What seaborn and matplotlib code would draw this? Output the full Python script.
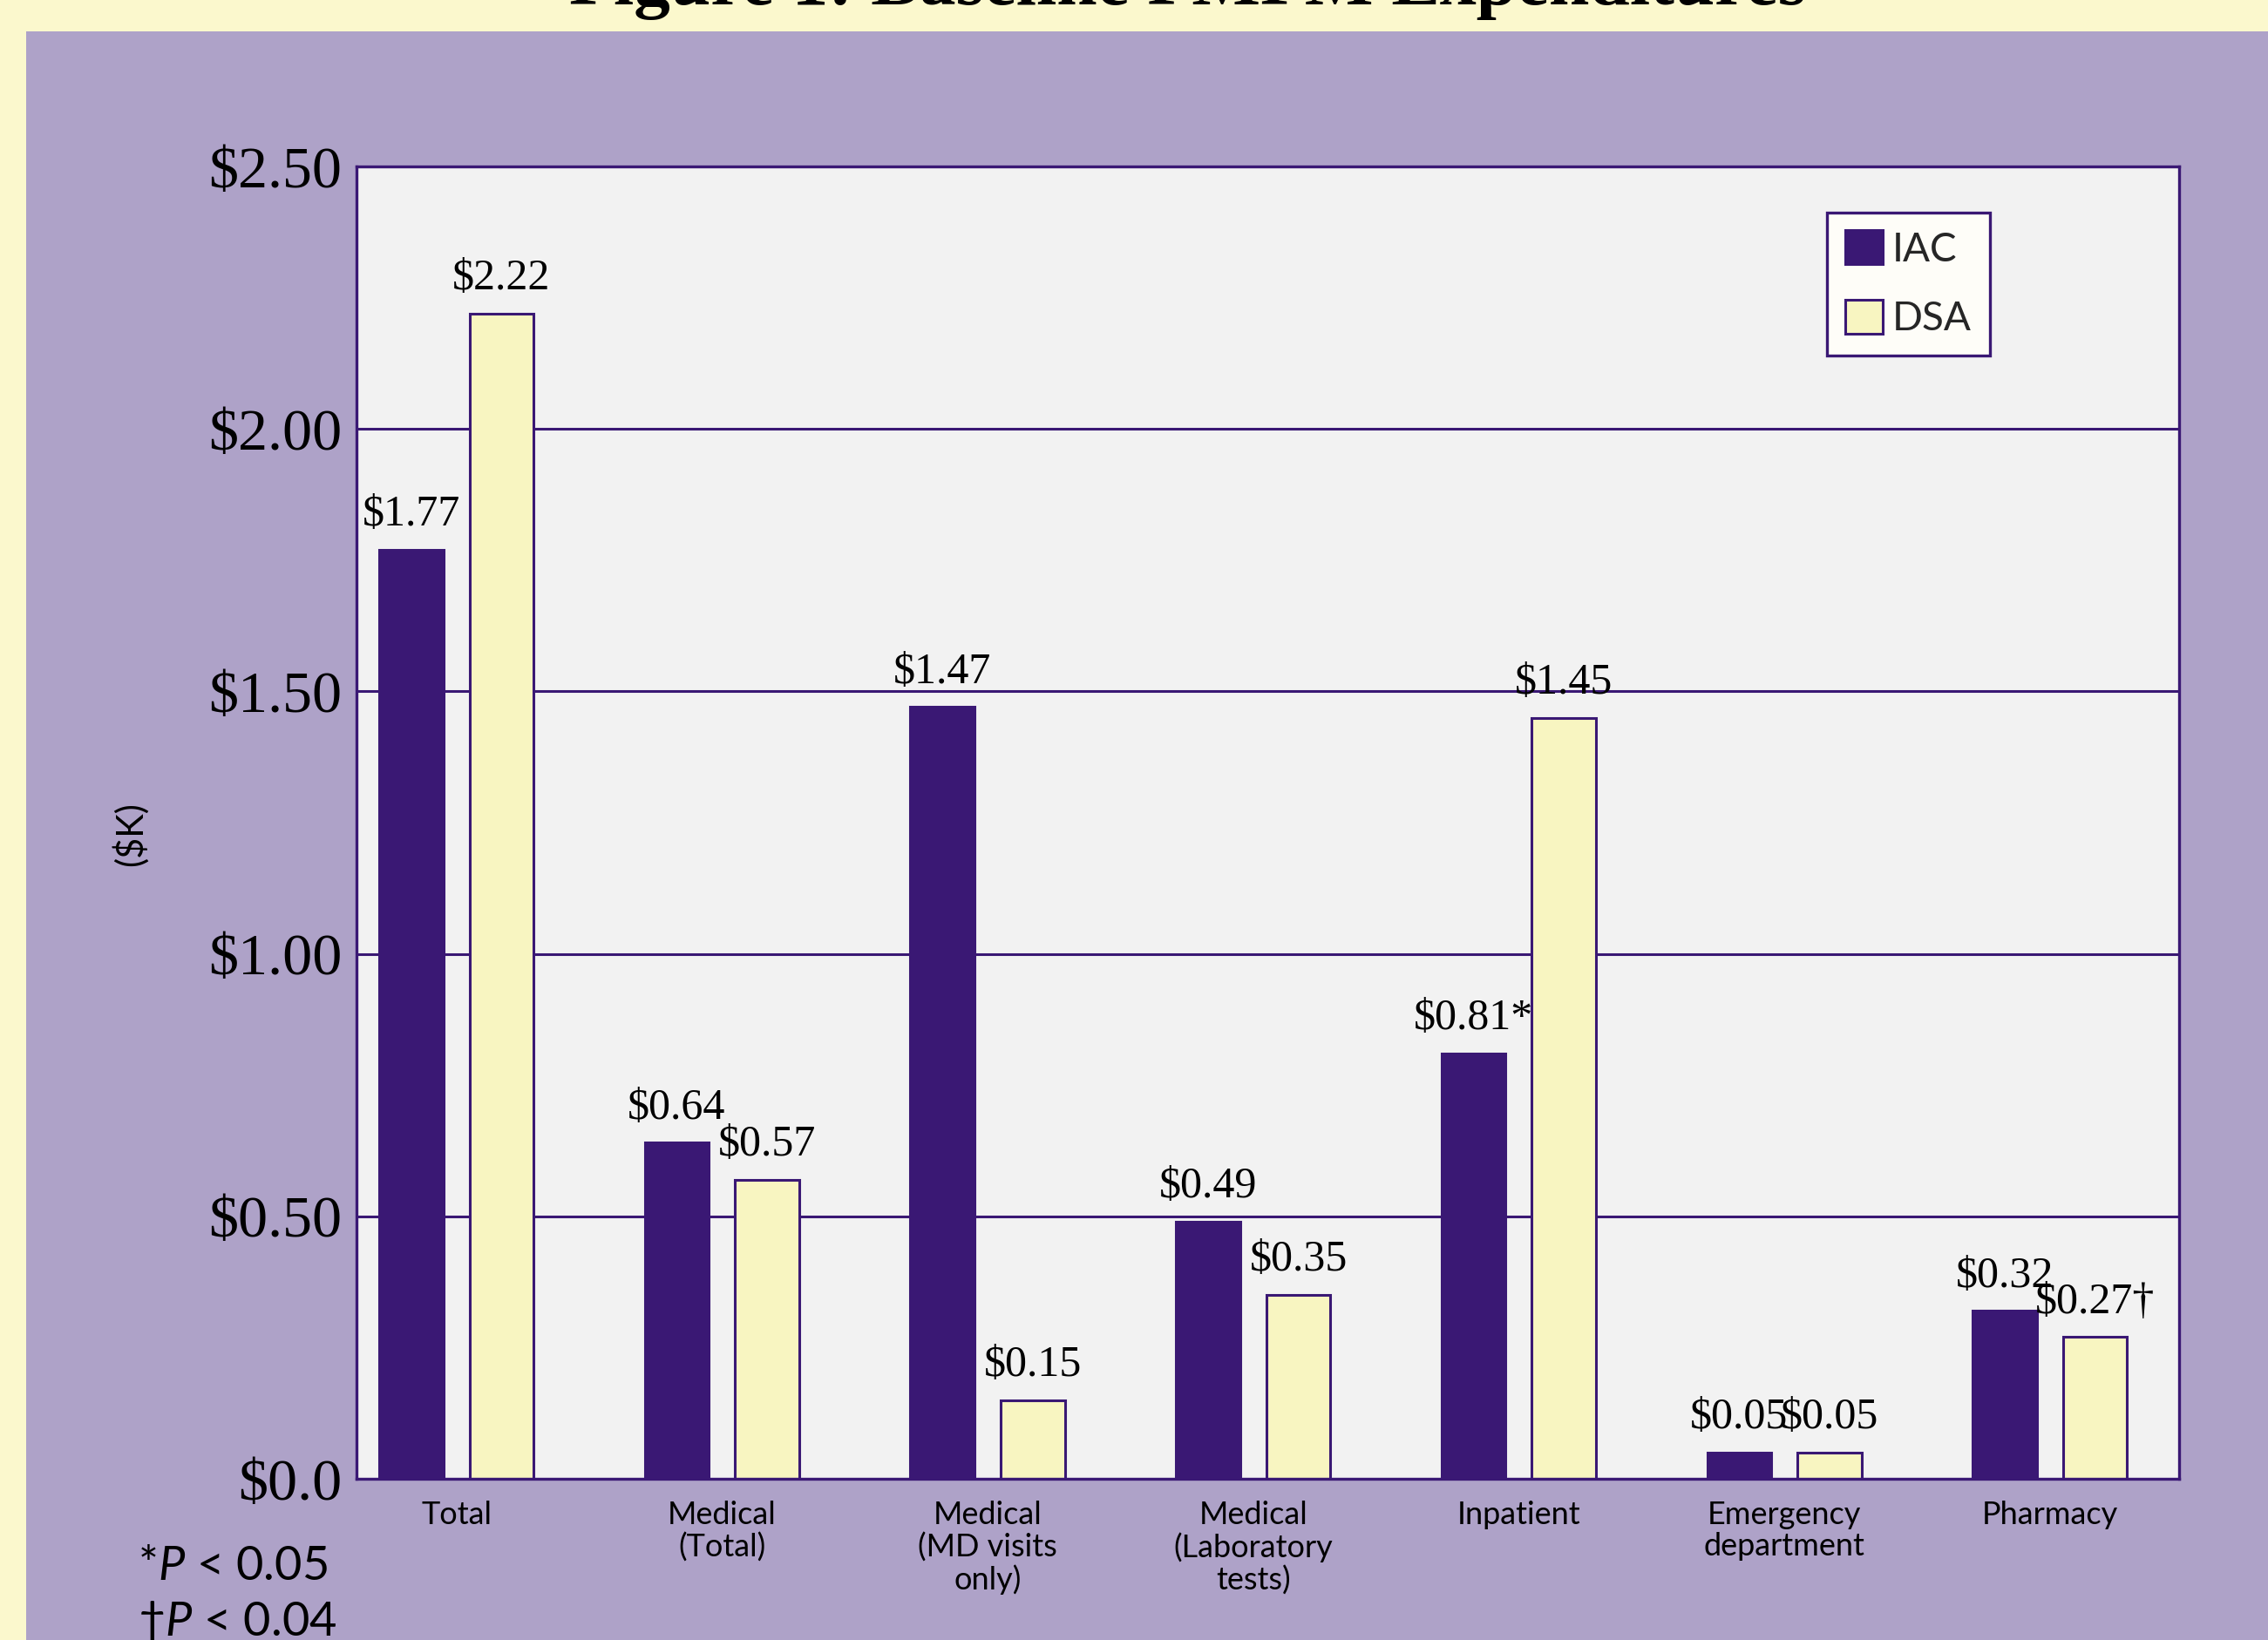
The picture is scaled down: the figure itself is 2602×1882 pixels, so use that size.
import matplotlib
matplotlib.use("Agg")
import matplotlib.pyplot as plt
from matplotlib.patches import Rectangle, Patch
import seaborn as sns
import pandas as pd

# Per-member-per-month expenditures ($K) by cost category
categories = [
    "Total",
    "Medical\n(Total)",
    "Medical\n(MD visits\nonly)",
    "Medical\n(Laboratory\ntests)",
    "Inpatient",
    "Emergency\ndepartment",
    "Pharmacy",
]
groups = ["IAC", "DSA"]
iac_values = [1.77, 0.64, 1.47, 0.49, 0.81, 0.05, 0.32]
dsa_values = [2.22, 0.57, 0.15, 0.35, 1.45, 0.05, 0.27]
iac_marks = ["", "", "", "", "*", "", ""]
dsa_marks = ["", "", "", "", "", "", "\u2020"]
y_ticks = [0.0, 0.5, 1.0, 1.5, 2.0, 2.5]
y_tick_labels = ["$0.0", "$0.50", "$1.00", "$1.50", "$2.00", "$2.50"]
footnotes = [r"*$\mathit{P}$ < 0.05", "\u2020" + r"$\mathit{P}$ < 0.04"]
title = "Figure 1: Baseline PMPM Expenditures"

YELLOW = "#FBF8CD"
PANEL = "#AEA2C8"
DARK = "#3A1874"
CREAM = "#F8F5C1"
AXBG = "#F2F2F2"
SERIF = ["Liberation Serif", "DejaVu Serif"]

sns.set_theme(style="white")
plt.rcParams["font.family"] = ["Lato", "DejaVu Sans"]
plt.rcParams["mathtext.fontset"] = "custom"
plt.rcParams["mathtext.it"] = "Lato:italic"
plt.rcParams["mathtext.rm"] = "Lato"

df = pd.DataFrame({
    "category": categories * 2,
    "group": ["IAC"] * len(categories) + ["DSA"] * len(categories),
    "value": iac_values + dsa_values,
})

W, H = 2602, 1882
fig = plt.figure(figsize=(W / 200, H / 200), dpi=200, facecolor=YELLOW)
fig.patches.append(Rectangle((30 / W, 0), 1, 1 - 36 / H, transform=fig.transFigure,
                             facecolor=PANEL, edgecolor="none", zorder=-10))

ax = fig.add_axes([409 / W, 1 - 1697 / H, (2500 - 409) / W, 1506 / H])
ax.set_zorder(1)
ax.set_facecolor(AXBG)

sns.barplot(data=df, x="category", y="value", hue="group", order=categories,
            hue_order=groups, palette={"IAC": DARK, "DSA": CREAM}, saturation=1,
            width=0.68, gap=0.29, edgecolor=DARK, linewidth=1.1, errorbar=None,
            legend=False, ax=ax)

for cont, vals, marks in zip(ax.containers, [iac_values, dsa_values], [iac_marks, dsa_marks]):
    labels = [f"${v:.2f}{m}" for v, m in zip(vals, marks)]
    ax.bar_label(cont, labels=labels, padding=6, fontsize=18, family=SERIF, color="black")

ax.set_ylim(0, 2.5)
ax.set_xlim(-0.376, 6.486)
ax.set_axisbelow(True)
ax.yaxis.grid(True, color=DARK, linewidth=1.1)
ax.xaxis.grid(False)
for sp in ax.spines.values():
    sp.set_color(DARK)
    sp.set_linewidth(1.2)

ax.set_yticks(y_ticks)
ax.set_yticklabels(y_tick_labels, fontsize=24.5, family=SERIF, color="black")
ax.tick_params(axis="y", length=0, pad=6)
ax.tick_params(axis="x", length=0, pad=9, labelsize=13, labelcolor="black")
for lbl in ax.get_xticklabels():
    lbl.set_linespacing(1.12)
ax.set_xlabel("")
ax.set_ylabel("")

handles = [Patch(facecolor=DARK, edgecolor=DARK, linewidth=1.1),
           Patch(facecolor=CREAM, edgecolor=DARK, linewidth=1.1)]
leg = ax.legend(handles, groups, loc="upper left", bbox_to_anchor=(0.807, 0.965),
                borderaxespad=0, frameon=True, fancybox=False, framealpha=1,
                fontsize=16.5, handlelength=0.93, handleheight=0.93,
                labelspacing=0.8, borderpad=0.45, handletextpad=0.25)
leg.get_frame().set_facecolor("#FEFDF8")
leg.get_frame().set_edgecolor(DARK)
leg.get_frame().set_linewidth(1.2)

fig.text(0.5236, 1 - 5 / H, title, ha="center", va="baseline", fontsize=30,
         fontweight="bold", family=SERIF, color="black")
fig.text(149 / W, 1 - 957 / H, "($K)", rotation=90, ha="center", va="center",
         fontsize=15, color="black")
fig.text(158 / W, 1 - 1813 / H, footnotes[0], va="baseline", fontsize=19.5, color="black")
fig.text(158 / W, 1 - 1876 / H, footnotes[1], va="baseline", fontsize=19.5, color="black")

fig.savefig("out.png", dpi=200, facecolor=fig.get_facecolor())
